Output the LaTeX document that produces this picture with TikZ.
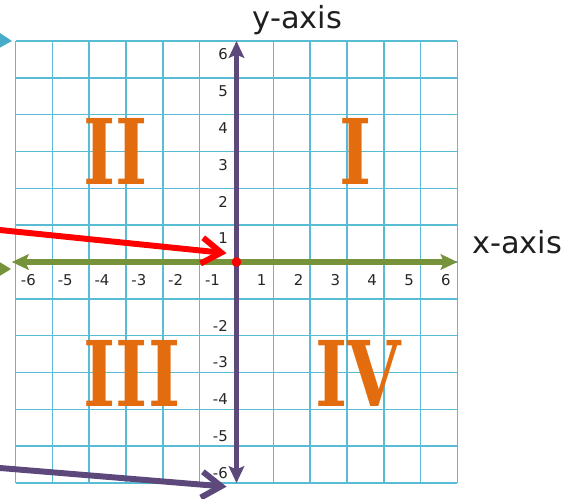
\documentclass[tikz,border=0pt]{standalone}
\usepackage{fontspec}
\setmainfont{DejaVu Sans}
\newfontfamily\numeralfont{DejaVu Serif}[FakeStretch=0.76]
\usepackage{xcolor}
\definecolor{GridCyan}    {RGB}{90, 188, 212}
\definecolor{AxisPurple}  {RGB}{93,  72, 124}
\definecolor{AxisGreen}   {RGB}{118, 146, 58}
\definecolor{QuadOrange}  {RGB}{226, 108, 14}
\definecolor{PointerCyan} {RGB}{72, 172, 200}
\usepackage{tikz}
\usetikzlibrary{
  arrows.meta,
  positioning
}

\begin{document}
\begin{tikzpicture}[
  gridline/.style={draw=GridCyan, line width=1.1pt},
  tick/.style={
    font=\fontsize{11.5}{11.5}\selectfont,
    text=black!85, inner sep=0pt
  },
  quad/.style={
    font=\numeralfont\bfseries\fontsize{70}{70}\selectfont,
    text=QuadOrange, inner sep=0pt
  },
  axislabel/.style={
    font=\fontsize{23.5}{24}\selectfont,
    text=black!88, inner sep=0pt, anchor=base
  },
  axis/.style={
    line width=4.6pt,
    {Stealth[length=13pt,width=12pt,inset=2.5pt]}-{Stealth[length=13pt,width=12pt,inset=2.5pt]}
  },
  pointer/.style={
    line width=4.6pt, line cap=round,
    -{Straight Barb[length=15pt,width=20pt]}
  },
  stub/.style={
    line width=2pt,
    -{Triangle[length=12pt,width=14pt]}
  }
]
\useasboundingbox (-6.421,-6.408) rectangle (9.299,7.114);
\clip (-6.421,-6.408) rectangle (9.299,7.114);

\draw[gridline] (-6,-6) grid (6,6);

\node[quad] (q2) at (-3.28, 3.01) {II};
\node[quad] (q1) at ( 3.23, 3.01) {I};
\node[quad] (q3) at (-2.84,-3.03) {III};
\node[quad] (q4) at ( 3.31,-3.03) {IV};

\foreach \n in {1,...,6}{
  \node[tick, anchor=east] (xp\n) at (\n-0.18,-0.49) {\n};
  \node[tick, anchor=west] (xn\n) at (-\n+0.14,-0.49) {-\n};
  \node[tick, anchor=east] (yp\n) at (-0.23,\n-0.36) {\n};
}
\foreach \n in {2,...,6}
  \node[tick, anchor=east] (yn\n) at (-0.23,-\n+0.27) {-\n};

\node[axislabel] (ylab) at (1.65, 6.33) {y-axis};
\node[axislabel] (xlab) at (7.62, 0.236) {x-axis};

\coordinate (xleft)  at (-6.1, 0);
\coordinate (xright) at ( 6.0, 0);
\coordinate (ybot)   at ( 0,-6.0);
\coordinate (ytop)   at ( 0, 6.0);
\draw[axis, AxisGreen]  (xleft) -- (xright);
\draw[axis, AxisPurple] (ybot) -- (ytop);

\node[circle, fill=red, inner sep=0pt,
  minimum size=7.5pt] (origin) at (0,0) {};

\coordinate (redtail)  at (-6.69, 0.896);
\coordinate (redhead)  at (-0.27, 0.24);
\coordinate (purtail)  at (-6.69,-5.57);
\coordinate (purhead)  at (-0.27,-6.10);
\draw[pointer, red]        (redtail) -- (redhead);
\draw[pointer, AxisPurple] (purtail) -- (purhead);

\coordinate (cyantail)  at (-7.2, 6.05);
\coordinate (cyanhead)  at (-6.095, 6.0);
\coordinate (greentail) at (-7.2,-0.19);
\coordinate (greenhead) at (-6.12,-0.19);
\draw[stub, PointerCyan, fill=PointerCyan] (cyantail) -- (cyanhead);
\draw[stub, AxisGreen, fill=AxisGreen]     (greentail) -- (greenhead);
\end{tikzpicture}
\end{document}
